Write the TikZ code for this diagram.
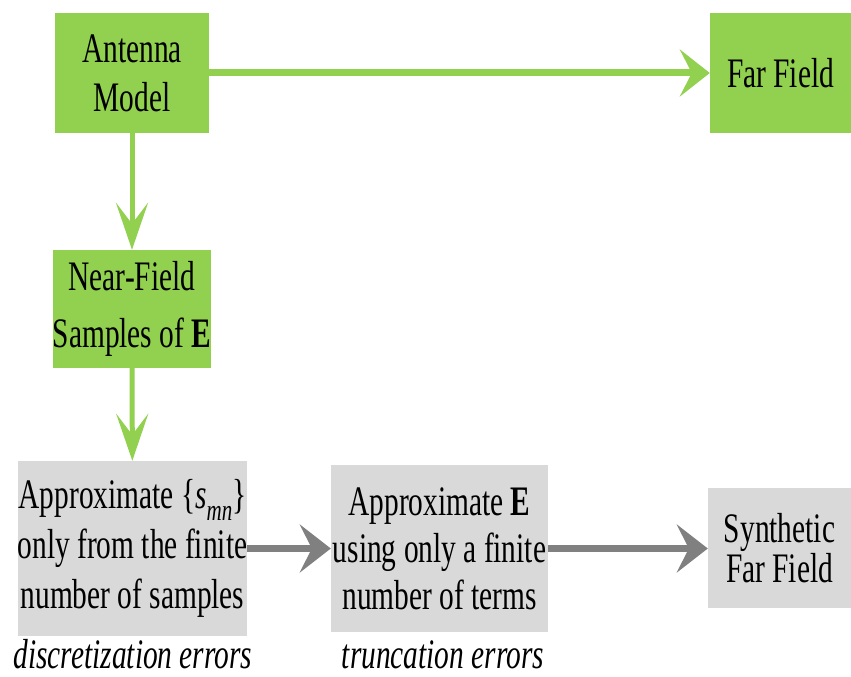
\documentclass[tikz,border=0pt]{standalone}
\usepackage{fontspec}
\setmainfont{Liberation Serif}[FakeStretch=0.7]
\usetikzlibrary{arrows.meta}

\definecolor{leaf}{HTML}{92D050}
\definecolor{greybox}{HTML}{D9D9D9}
\definecolor{pipe}{HTML}{808080}

\tikzset{
  stage/.style={inner sep=0pt, align=center, text=black},
  given/.style={stage, fill=leaf},
  approx/.style={stage, fill=greybox},
  errlabel/.style={anchor=base, inner sep=0pt, font=\fontsize{42}{48}\selectfont\itshape},
  hgreen/.style={draw=leaf, line width=7pt, -{Stealth[length=30pt,width=47pt,inset=12pt]}},
  vgreen/.style={draw=leaf, line width=5pt, -{Stealth[length=47pt,width=32pt,inset=21pt]}},
  hgrey/.style={draw=pipe, line width=7pt, -{Stealth[length=31pt,width=48pt,inset=12pt]}}
}

\begin{document}
\begin{tikzpicture}[x=1pt,y=1pt]
\useasboundingbox (0,0) rectangle (851,677);

\node [given, minimum width=154pt, minimum height=120pt, font=\fontsize{42}{49}\selectfont] (ant) at (132,604) {Antenna\\Model};
\node [given, minimum width=141pt, minimum height=120pt, font=\fontsize{42}{49}\selectfont] (far) at (780.5,604) {Far Field};
\node [given, minimum width=154pt, minimum height=118pt, font=\fontsize{42}{57}\selectfont] (near) at (132,368) {Near-Field\\Samples of \textbf{E}};

\node [approx, minimum width=225pt, minimum height=175pt, font=\fontsize{42}{50}\selectfont] (app1) at (132.5,128.5)
  {Approximate \{\textit{s}\raisebox{-12pt}{\fontsize{30}{30}\selectfont\textit{mn}}\}\\only from the finite\\number of samples};
\node [approx, minimum width=217pt, minimum height=167pt, font=\fontsize{42}{47}\selectfont] (app2) at (439.5,128.5)
  {Approximate \textbf{E}\\using only a finite\\number of terms};
\node [approx, minimum width=143pt, minimum height=120pt, font=\fontsize{42}{40}\selectfont] (syn) at (779.5,128.5) {Synthetic\\Far Field};

\node [errlabel] (disc) at (133,9) {discretization errors};
\node [errlabel] (trunc) at (443,8) {truncation errors};

\draw [hgreen] (ant) -- (far);
\draw [vgreen] (ant) -- (near);
\draw [vgreen] (near) -- (app1);
\draw [hgrey] (app1) -- (app2);
\draw [hgrey] (app2) -- (syn);

\end{tikzpicture}
\end{document}
